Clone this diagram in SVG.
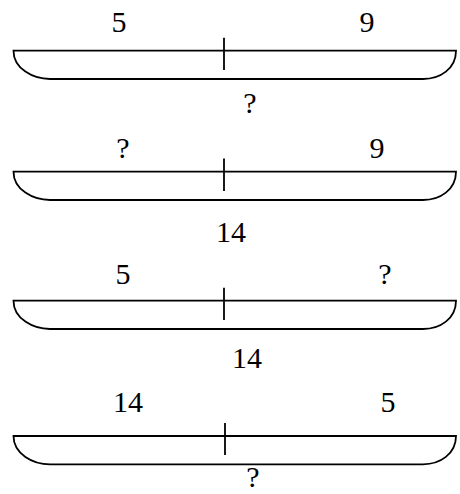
<svg xmlns="http://www.w3.org/2000/svg" width="460" height="494" viewBox="0 0 460 494">
<style>
.bar{fill:none;stroke:#000;stroke-width:1.8}
.t{font-family:"Liberation Serif",serif;font-size:30px;fill:#000;text-anchor:middle}
</style>
<defs>
<path id="tray" class="bar" d="M13.5,0 L456,0 C456,18 440,28.3 423,28.3 L50,28.3 C33,28.3 13.5,18 13.5,0 Z"/>
</defs>
<rect width="460" height="494" fill="#fff"/>
<g id="d1">
<use href="#tray" transform="translate(0,50.7)"/>
<line class="bar" x1="224" y1="37.7" x2="224" y2="70"/>
<text class="t" x="119" y="31.7">5</text>
<text class="t" x="367" y="31.7">9</text>
<text class="t" x="250" y="113">?</text>
</g>
<g id="d2">
<use href="#tray" transform="translate(0,171.7)"/>
<line class="bar" x1="224" y1="158.5" x2="224" y2="191"/>
<text class="t" x="123" y="158">?</text>
<text class="t" x="377" y="158">9</text>
<text class="t" x="231" y="242">14</text>
</g>
<g id="d3">
<use href="#tray" transform="translate(0,300.7)"/>
<line class="bar" x1="224" y1="287.7" x2="224" y2="320"/>
<text class="t" x="123" y="284">5</text>
<text class="t" x="385" y="284">?</text>
<text class="t" x="247" y="368">14</text>
</g>
<g id="d4">
<use href="#tray" transform="translate(0,436)"/>
<line class="bar" x1="225" y1="423" x2="225" y2="455"/>
<text class="t" x="128" y="412">14</text>
<text class="t" x="388" y="412">5</text>
<text class="t" x="253" y="486.5">?</text>
</g>
</svg>
